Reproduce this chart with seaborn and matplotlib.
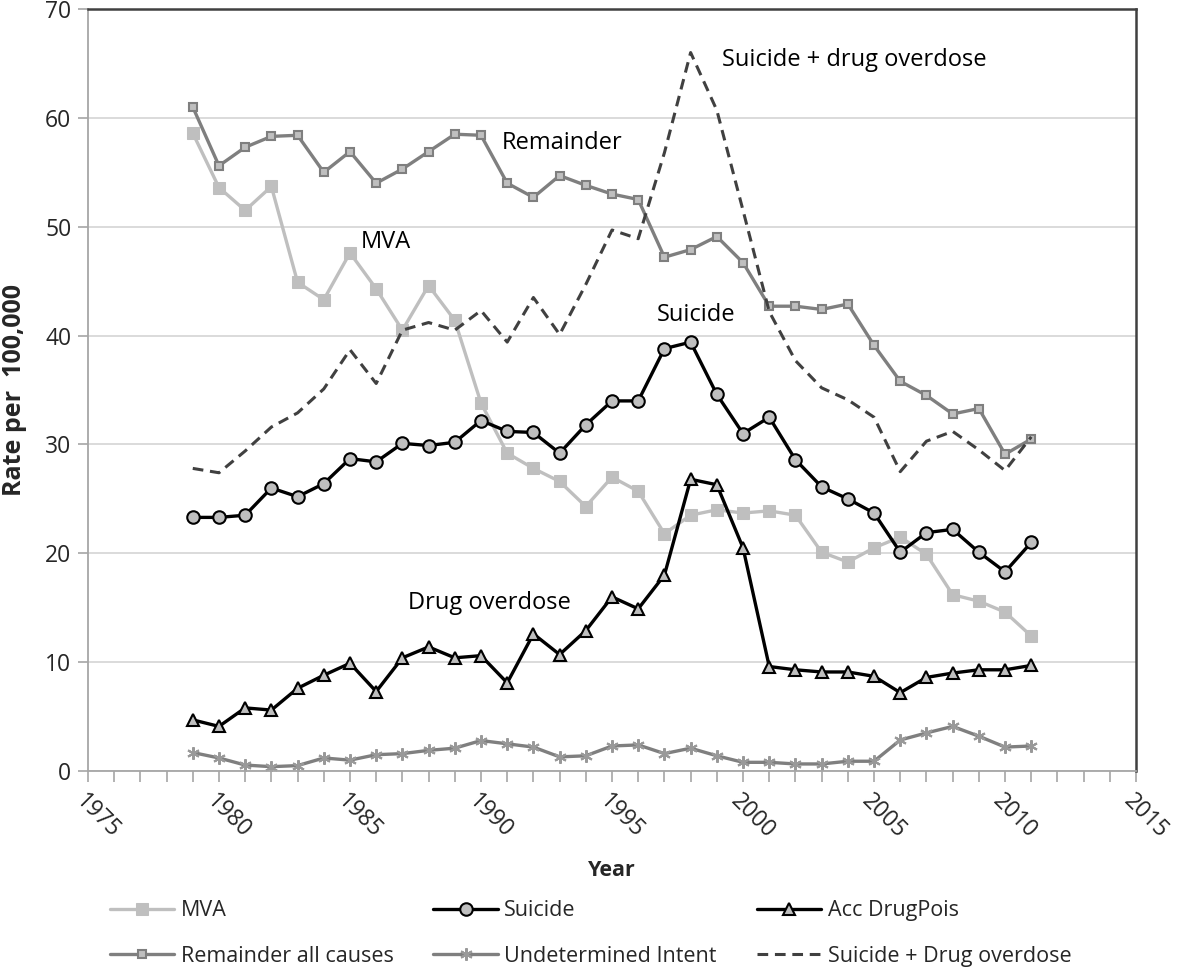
import numpy as np
import pandas as pd
import matplotlib
matplotlib.use("Agg")
import matplotlib.pyplot as plt
import seaborn as sns

years = list(range(1979, 2012))

mva = [58.6, 53.6, 51.5, 53.7, 44.9, 43.3, 47.6, 44.3, 40.5, 44.6, 41.4, 33.8,
       29.2, 27.8, 26.6, 24.3, 27.0, 25.7, 21.8, 23.5, 24.0, 23.7, 23.9, 23.5,
       20.1, 19.2, 20.5, 21.5, 19.9, 16.2, 15.6, 14.6, 12.4]
suicide = [23.3, 23.3, 23.5, 26.0, 25.2, 26.4, 28.7, 28.4, 30.1, 29.9, 30.2, 32.2,
           31.2, 31.1, 29.2, 31.8, 34.0, 34.0, 38.8, 39.4, 34.6, 31.0, 32.5, 28.6,
           26.1, 25.0, 23.7, 20.1, 21.9, 22.2, 20.1, 18.3, 21.0]
acc_drug = [4.7, 4.1, 5.8, 5.6, 7.6, 8.8, 9.9, 7.3, 10.4, 11.4, 10.4, 10.6,
            8.1, 12.6, 10.7, 12.9, 16.0, 14.9, 18.0, 26.8, 26.3, 20.5, 9.6, 9.3,
            9.1, 9.1, 8.7, 7.2, 8.6, 9.0, 9.3, 9.3, 9.7]
remainder = [61.0, 55.6, 57.3, 58.3, 58.4, 55.0, 56.9, 54.0, 55.3, 56.9, 58.5, 58.4,
             54.0, 52.7, 54.7, 53.8, 53.0, 52.5, 47.2, 47.9, 49.1, 46.7, 42.7, 42.7,
             42.4, 42.9, 39.1, 35.8, 34.5, 32.8, 33.3, 29.1, 30.5]
undetermined = [1.7, 1.2, 0.55, 0.4, 0.5, 1.2, 1.0, 1.5, 1.6, 1.9, 2.1, 2.8,
                2.5, 2.2, 1.3, 1.4, 2.3, 2.4, 1.6, 2.1, 1.4, 0.8, 0.8, 0.65,
                0.65, 0.9, 0.9, 2.85, 3.5, 4.1, 3.2, 2.2, 2.3]
sui_drug = [27.8, 27.4, 29.4, 31.6, 32.9, 35.1, 38.7, 35.6, 40.5, 41.2, 40.5, 42.3,
            39.4, 43.5, 40.1, 44.7, 49.7, 48.9, 56.8, 66.0, 60.7, 51.5, 42.2, 37.7,
            35.2, 34.1, 32.5, 27.5, 30.3, 31.2, 29.5, 27.6, 30.7]

x_ticks = [1975, 1980, 1985, 1990, 1995, 2000, 2005, 2010, 2015]
y_ticks = [0, 10, 20, 30, 40, 50, 60, 70]

sns.set_theme(style="white")
plt.rcParams['font.family'] = ['Open Sans', 'DejaVu Sans']

fig = plt.figure(figsize=(11.79, 9.69), dpi=100)
ax = fig.add_axes([0.0746, 0.2043, 0.889, 0.7864])

light = '#bfbfbf'
mid = '#7f7f7f'

ax.yaxis.grid(True, color='#d4d4d4', lw=1.2, zorder=0)
ax.set_axisbelow(True)

sns.lineplot(x=years, y=mva, ax=ax, color=light, lw=2.4, marker='s', markersize=8,
             markerfacecolor=light, markeredgecolor=light, label='MVA')
sns.lineplot(x=years, y=remainder, ax=ax, color=mid, lw=2.4, marker='s', markersize=6,
             markerfacecolor=light, markeredgecolor=mid, markeredgewidth=1.5,
             label='Remainder all causes')
sns.lineplot(x=years, y=sui_drug, ax=ax, color='#404040', lw=2.2, linestyle=(0, (3.5, 2.2)),
             label='Suicide + Drug overdose')
sns.lineplot(x=years, y=undetermined, ax=ax, color=mid, lw=2.4, marker=(6, 2, 0), markersize=9,
             markeredgecolor='#999999', markeredgewidth=1.5, label='Undetermined Intent')
sns.lineplot(x=years, y=suicide, ax=ax, color='black', lw=2.4, marker='o', markersize=9,
             markerfacecolor=light, markeredgecolor='black', markeredgewidth=1.5,
             label='Suicide')
sns.lineplot(x=years, y=acc_drug, ax=ax, color='black', lw=2.4, marker='^', markersize=8.5,
             markerfacecolor=light, markeredgecolor='black', markeredgewidth=1.5,
             label='Acc DrugPois')

ax.set_xlim(1975, 2015)
ax.set_ylim(0, 70)
ax.set_xticks(x_ticks)
ax.set_xticks(list(range(1975, 2016)), minor=True)
ax.set_yticks(y_ticks)
ax.set_xticklabels([str(t) for t in x_ticks], rotation=-45, ha='left', va='top',
                   rotation_mode='anchor', fontsize=16.5)
ax.set_yticklabels([str(t) for t in y_ticks], fontsize=16.5)
ax.tick_params(axis='x', which='both', direction='out', length=8, width=1.2, color='#a6a6a6',
               bottom=True, pad=5)
ax.tick_params(axis='y', which='major', direction='out', length=7, width=1.2, color='#a6a6a6',
               left=True, pad=5)

for side in ['left', 'bottom']:
    ax.spines[side].set_color('#a6a6a6')
    ax.spines[side].set_linewidth(1.3)
for side in ['top', 'right']:
    ax.spines[side].set_color('#404040')
    ax.spines[side].set_linewidth(1.8)
    ax.spines[side].set_visible(True)

ax.set_xlabel('Year', fontsize=15.5, fontweight='bold', labelpad=12)
ax.set_ylabel('Rate per  100,000', fontsize=18, fontweight='bold', labelpad=13)

ann_kw = dict(fontsize=17, color='black', va='center', ha='left')
ax.text(1990.8, 57.7, 'Remainder', **ann_kw)
ax.text(1985.4, 48.6, 'MVA', **ann_kw)
ax.text(1999.2, 65.3, 'Suicide + drug overdose', **ann_kw)
ax.text(1996.7, 41.9, 'Suicide', **ann_kw)
ax.text(1987.2, 15.4, 'Drug overdose', **ann_kw)

handles, labels = ax.get_legend_handles_labels()
hmap = dict(zip(labels, handles))
order = ['MVA', 'Remainder all causes', 'Suicide', 'Undetermined Intent',
         'Acc DrugPois', 'Suicide + Drug overdose']
ax.get_legend().remove()
fig.legend([hmap[k] for k in order], order, loc='upper left', bbox_to_anchor=(0.093, 0.071),
           ncol=3, frameon=False, fontsize=15.5, handlelength=3.0, handletextpad=0.3,
           columnspacing=1.85, labelspacing=1.15, numpoints=1, borderaxespad=0, borderpad=0)

fig.savefig('out.png', dpi=100)
